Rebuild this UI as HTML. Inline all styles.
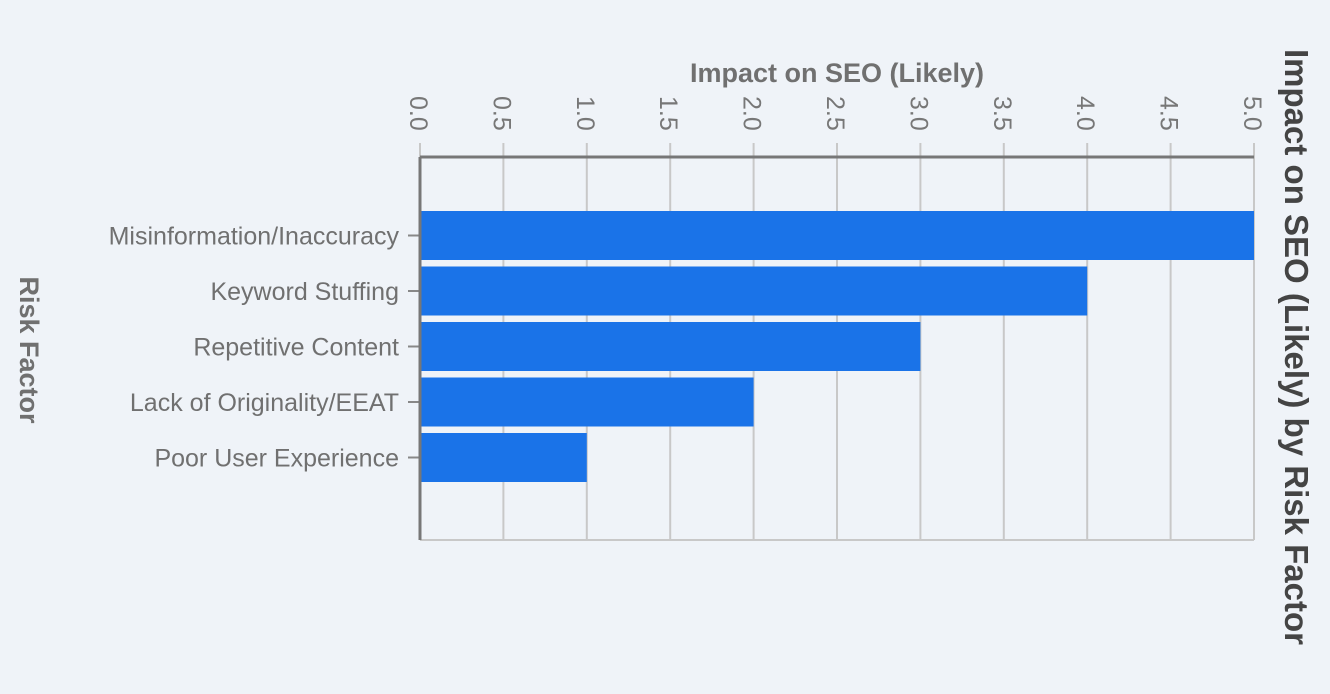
<!DOCTYPE html>
<html><head><meta charset="utf-8"><style>
html,body{margin:0;padding:0;background:#eff3f8;}
svg{display:block;font-family:"Liberation Sans",sans-serif;}
</style></head><body>
<svg id="chart" width="1330" height="694">
<rect width="1330" height="694" fill="#eff3f8"/>
<g id="grid"></g><g id="bars"></g><g id="axes"></g>
<text x="837" y="82" text-anchor="middle" font-size="27" font-weight="bold" fill="#707070">Impact on SEO (Likely)</text>
<text transform="translate(20,350) rotate(90)" text-anchor="middle" font-size="27" font-weight="bold" fill="#707070">Risk Factor</text>
<text transform="translate(1285,347) rotate(90)" text-anchor="middle" font-size="33" font-weight="bold" fill="#444">Impact on SEO (Likely) by Risk Factor</text>
</svg>
<script>
const categories=["Misinformation/Inaccuracy","Keyword Stuffing","Repetitive Content","Lack of Originality/EEAT","Poor User Experience"];
const values=[5,4,3,2,1];
const ticks=[0,0.5,1,1.5,2,2.5,3,3.5,4,4.5,5];
const ns="http://www.w3.org/2000/svg";
const x0=420,x1=1254,yTop=157,yBot=540,xMax=5;
const xs=v=>x0+(x1-x0)*v/xMax;
const bandStart=211,step=55.5,barH=49;
const ys=i=>bandStart+i*step;
function mk(t,a,p){const e=document.createElementNS(ns,t);for(const k in a)e.setAttribute(k,a[k]);p.appendChild(e);return e;}
const grid=document.getElementById('grid'),bars=document.getElementById('bars'),axes=document.getElementById('axes');
ticks.forEach(t=>{
  const g=mk('line',{x1:xs(t),x2:xs(t),y1:143,y2:yBot,stroke:'#c8c8c8','stroke-width':2},grid);
  
  
  const tx=mk('text',{transform:`translate(${xs(t)-10},96) rotate(90)`,'font-size':25,fill:'#777'},axes);
  tx.textContent=t.toFixed(1);
  
  
});
mk('line',{x1:x0,x2:xs(xMax),y1:yBot,y2:yBot,stroke:'#c8c8c8','stroke-width':2},grid);
values.forEach((v,i)=>{
  const r=mk('rect',{x:x0,y:ys(i),width:xs(v)-x0,height:barH,fill:'#1a73e8'},bars);
  
  
  const l=mk('text',{x:399,y:ys(i)+barH/2+9,'text-anchor':'end','font-size':25,fill:'#707070'},axes);
  l.textContent=categories[i];
  
  
  const tk=mk('line',{x1:408,x2:420,y1:ys(i)+barH/2,y2:ys(i)+barH/2,stroke:'#888','stroke-width':2},axes);
  
  
});
const ax=mk('line',{x1:x0,x2:xs(xMax),y1:yTop,y2:yTop,stroke:'#777','stroke-width':3},axes);


const ay=mk('line',{x1:x0,x2:x0,y1:yTop,y2:yBot,stroke:'#777','stroke-width':3},axes);


</script>
</body></html>
